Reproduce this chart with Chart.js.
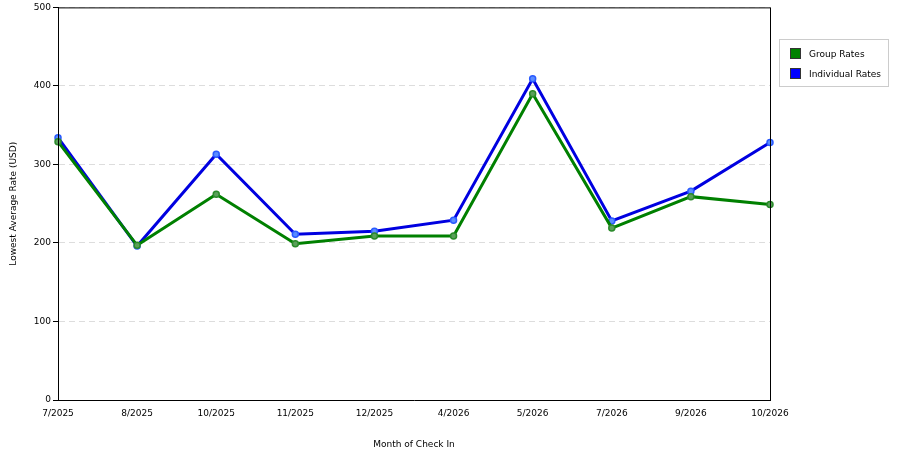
<!DOCTYPE html>
<html><head><meta charset="utf-8">
<script src="https://cdn.jsdelivr.net/npm/chart.js@4/dist/chart.umd.min.js"></script>
<style>
body{margin:0;background:#fff;}
#wrap{position:relative;width:900px;height:450px;}
#legend{position:absolute;left:779px;top:39px;width:108px;height:46px;border:1px solid #ccc;font:9px "DejaVu Sans",sans-serif;color:#000;}
.it{position:absolute;left:10px;display:flex;align-items:center;}
.sw{width:11px;height:11px;margin-right:8px;border:1px solid #333;box-sizing:border-box;}
</style></head><body>
<div id="wrap"><canvas id="c" width="900" height="450"></canvas>
<div id="legend">
<div class="it" style="top:8px"><div class="sw" style="background:#008000"></div>Group Rates</div>
<div class="it" style="top:28px"><div class="sw" style="background:#0000ff"></div>Individual Rates</div>
</div></div>
<script>
const categories=["7/2025","8/2025","10/2025","11/2025","12/2025","4/2026","5/2026","7/2026","9/2026","10/2026"];
const groupRates=[329,197,262,199,209,209,390,219,259,249];
const individualRates=[334,196,313,211,215,229,409,228,266,328];
const yTicks=[0,100,200,300,400,500];
const F={family:"DejaVu Sans",size:9};
new Chart(document.getElementById('c'),{type:'line',
data:{labels:categories,datasets:[
{label:'Group Rates',data:groupRates,borderColor:'#008000',backgroundColor:'#5aa05a',pointBorderColor:'#2a8a2a',borderWidth:3,pointRadius:3,pointBorderWidth:1.5,tension:0},
{label:'Individual Rates',data:individualRates,borderColor:'#0000e0',backgroundColor:'#5a8cff',pointBorderColor:'#2a5aff',borderWidth:3,pointRadius:3,pointBorderWidth:1.5,tension:0}]},
options:{responsive:false,animation:false,
layout:{padding:{left:8,right:130,top:0,bottom:0}},
plugins:{legend:{display:false},tooltip:{enabled:false}},
scales:{
x:{offset:false,grid:{display:false,drawTicks:true,tickLength:5,color:'#000'},border:{color:'#000'},
ticks:{font:F,color:'#000',maxRotation:0,autoSkip:false},
title:{display:true,text:'Month of Check In',font:F,color:'#000',padding:{top:2,bottom:0}},
afterFit:s=>{s.height=50;}},
y:{min:0,max:500,afterBuildTicks:s=>{s.ticks=yTicks.map(v=>({value:v}));},
grid:{color:'#ddd',tickLength:5,tickColor:'#000',drawTicks:true},border:{color:'#000',dash:[6,4]},
ticks:{font:F,color:'#000',padding:2},
title:{display:true,text:'Lowest Average Rate (USD)',font:F,color:'#000',padding:0},
afterFit:s=>{s.width=50;}}}},
plugins:[{id:'frame',afterDraw(ch){const a=ch.chartArea,c=ch.ctx;c.save();c.strokeStyle='#000';c.lineWidth=1;c.setLineDash([]);
c.beginPath();c.moveTo(a.left+0.5,a.top);c.lineTo(a.left+0.5,a.bottom);c.moveTo(a.right+0.5,a.top);c.lineTo(a.right+0.5,a.bottom);c.moveTo(a.left,a.top+0.5);c.lineTo(a.right,a.top+0.5);c.stroke();c.restore();}}]
});
</script></body></html>
